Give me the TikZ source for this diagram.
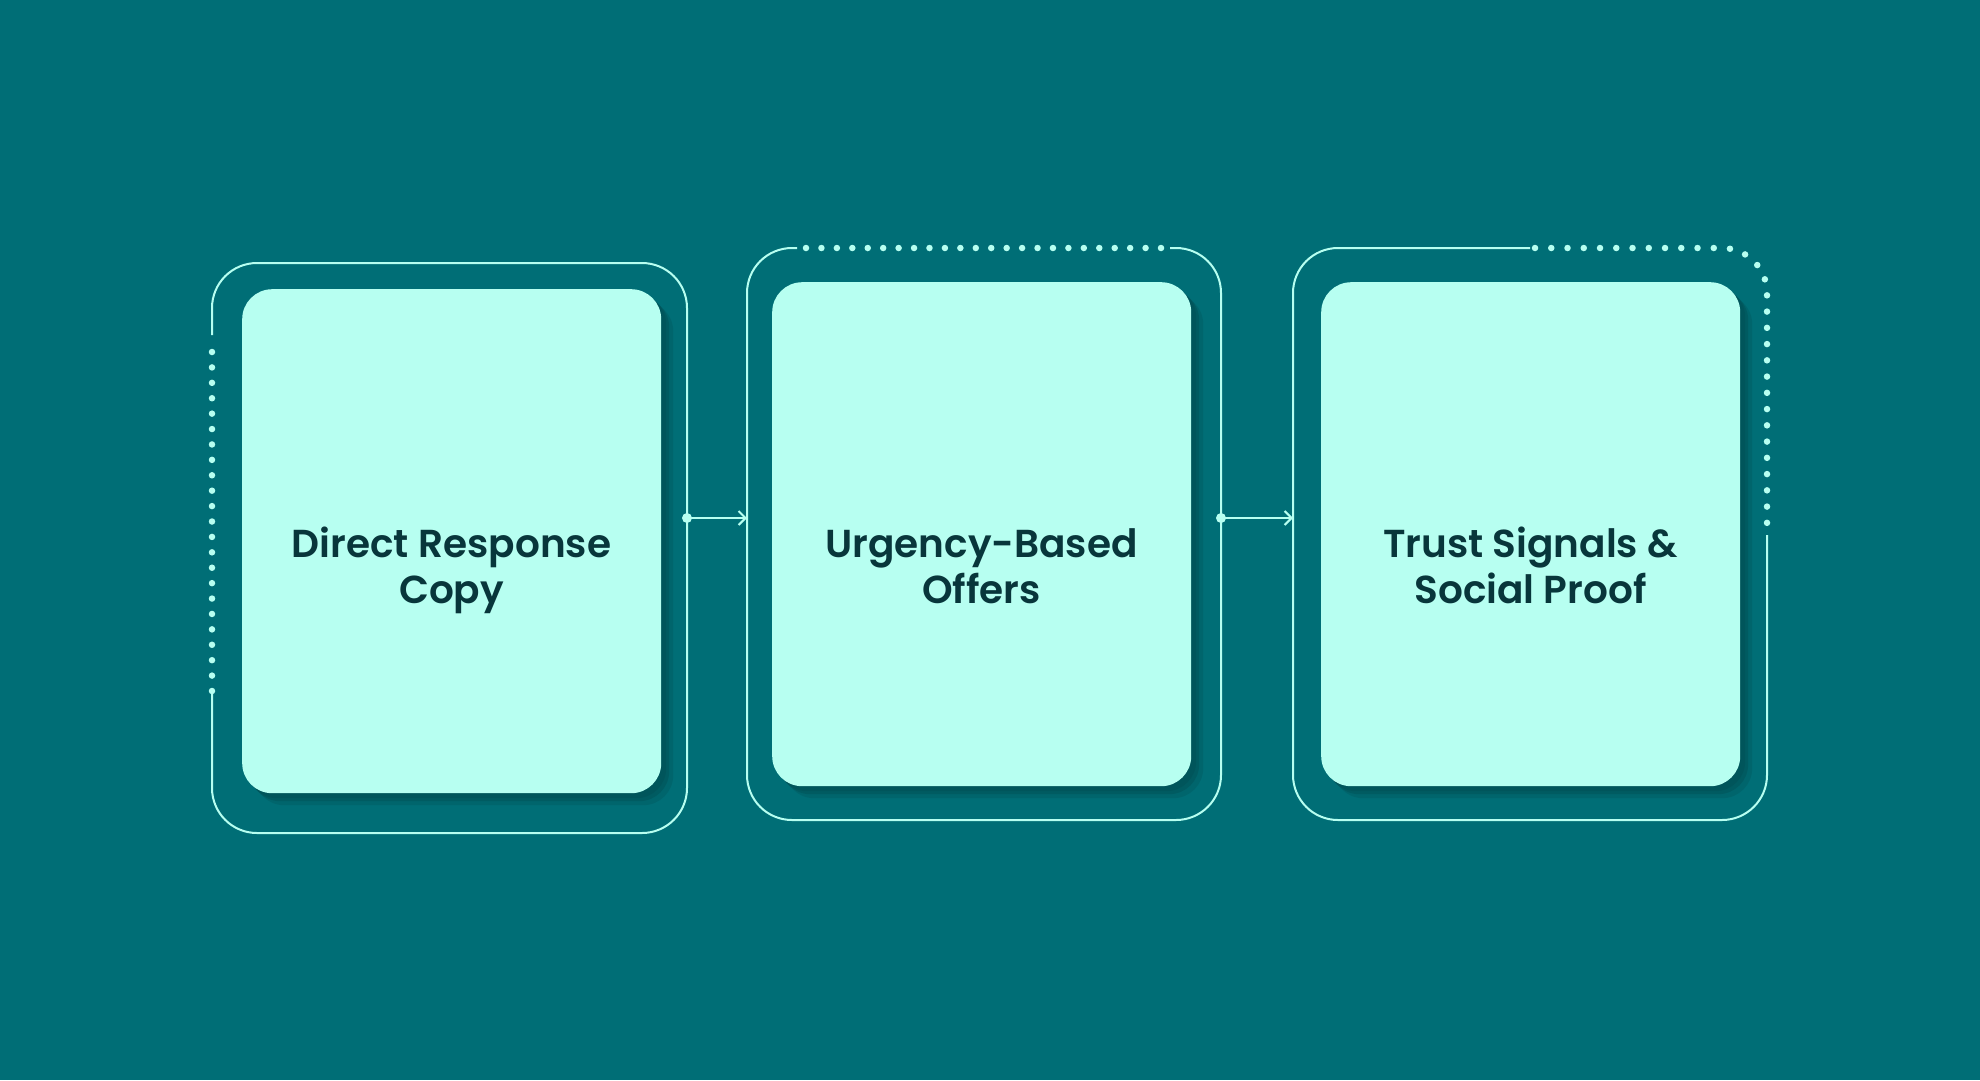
\documentclass[tikz,border=0pt]{standalone}
\usepackage{fontspec}
\setmainfont{Poppins}[BoldFont={Poppins SemiBold}]
\usetikzlibrary{arrows.meta,shadows}
\definecolor{bg}{HTML}{006E76}
\definecolor{cardfill}{HTML}{B7FFF1}
\definecolor{ln}{HTML}{B7FFF1}
\definecolor{shd}{HTML}{00555B}
\definecolor{txt}{HTML}{08363B}
\begin{document}
\begin{tikzpicture}[x=1pt,y=-1pt,
  outline/.style={draw=ln, line width=2pt, rounded corners=45pt},
  dotline/.style={draw=ln, line width=6.5pt, line cap=round},
  cardbox/.style={fill=cardfill, rounded corners=30pt, minimum width=419pt, minimum height=504pt, anchor=north west, inner sep=0pt,
    drop shadow={shadow xshift=12pt, shadow yshift=-12pt, fill=shd, opacity=0.35},
    drop shadow={shadow xshift=8pt, shadow yshift=-8pt, fill=shd, opacity=0.6},
    drop shadow={shadow xshift=5pt, shadow yshift=-5pt, fill=shd, opacity=1}},
  lbl/.style={text=txt, font=\bfseries\fontsize{39}{46}\selectfont, inner sep=0pt, anchor=base},
  conn/.style={draw=ln, line width=2pt, -{Straight Barb[length=7pt,width=14pt,line width=2pt]}},
  hub/.style={fill=ln}
]
\fill[bg] (0,0) rectangle (1980,1080);
\useasboundingbox (0,0) rectangle (1980,1080);

% panel outlines
\draw[outline] (212,335) -- (212,263) -- (687,263) -- (687,833) -- (212,833) -- (212,691);
\draw[dotline, dash pattern=on 0pt off 15.409pt] (212,352) -- (212,691.5);

\draw[outline] (797,248) -- (747,248) -- (747,820) -- (1221,820) -- (1221,248) -- (1170,248);
\draw[dotline, dash pattern=on 0pt off 15.435pt] (806,248) -- (1161.5,248);

\draw[outline] (1767,535) -- (1767,820) -- (1293,820) -- (1293,248) -- (1530,248);
\draw[dotline, rounded corners=45pt, dash pattern=on 0pt off 16.25pt] (1535,248) -- (1767,248) -- (1767,524);

% cards
\node[cardbox] (c1) at (242,289) {};
\node[cardbox] (c2) at (772,282) {};
\node[cardbox] (c3) at (1321,282) {};

% labels
\node[lbl] (t1a) at (451.5,557) {Direct Response};
\node[lbl] (t1b) at (451.5,603) {Copy};
\node[lbl] (t2a) at (981.5,557) {Urgency-Based};
\node[lbl] (t2b) at (981.5,603) {Offers};
\node[lbl] (t3a) at (1530.5,557) {Trust Signals \&};
\node[lbl] (t3b) at (1530.5,603) {Social Proof};

% connectors
\coordinate (p1e) at (687,518);
\coordinate (p2w) at (747,518);
\coordinate (p2e) at (1221,518);
\coordinate (p3w) at (1293,518);
\draw[conn] (p1e) -- (p2w);
\draw[conn] (p2e) -- (p3w);
\fill[hub] (p1e) circle (5pt);
\fill[hub] (p2e) circle (5pt);
\end{tikzpicture}
\end{document}
